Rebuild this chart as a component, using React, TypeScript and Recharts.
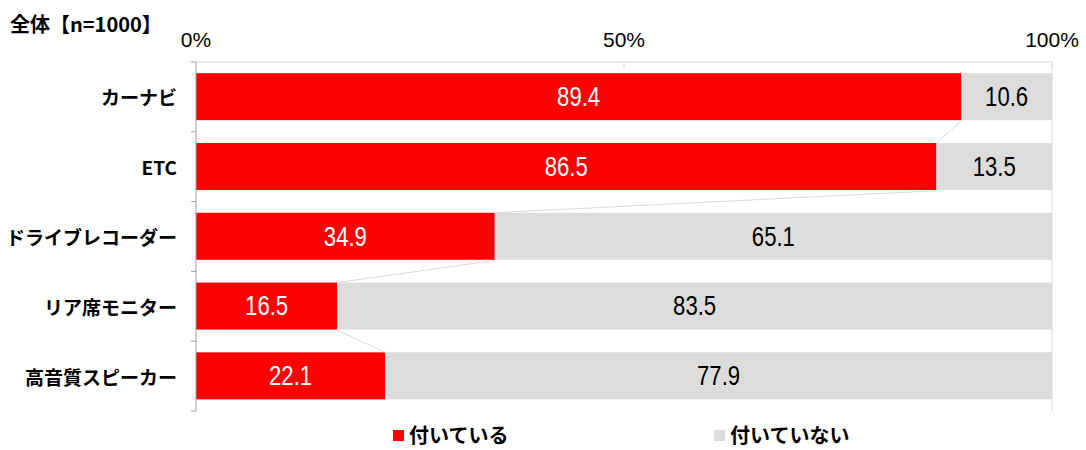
import { BarChart, Bar, XAxis, YAxis, LabelList, ReferenceLine } from "recharts";

const RED = "#ff0000";
const GRAY = "#dcdcdc";
const LINE = "#d9d9d9";
const AXIS = "#a0a0a0";
const JP = '"Noto Sans CJK JP", "Noto Sans", sans-serif';
const NUM = '"Liberation Sans", Arial, sans-serif';

const CATEGORIES = ["カーナビ", "ETC", "ドライブレコーダー", "リア席モニター", "高音質スピーカー"];
const EQUIPPED = [89.4, 86.5, 34.9, 16.5, 22.1];
const NOT_EQUIPPED = [10.6, 13.5, 65.1, 83.5, 77.9];
const X_TICKS = [0, 50, 100];
const SERIES = [
  { key: "on", name: "付いている", color: RED },
  { key: "off", name: "付いていない", color: GRAY },
];
const LEGEND_X = [393, 714];

const CAT_GAP = 0.16;

const rows = CATEGORIES.map((name, i) => ({
  name,
  on: EQUIPPED[i],
  off: NOT_EQUIPPED[i],
  prevOn: i > 0 ? EQUIPPED[i - 1] : null,
}));

// red segment plus the series line back to the previous bar's end
function RedBar(props: any) {
  const { x, y, width, height, payload } = props;
  let connector = null;
  if (payload.prevOn != null && payload.on > 0) {
    const perUnit = width / payload.on;
    const band = height / (1 - 2 * CAT_GAP);
    const prevBottom = y - (band - height);
    connector = (
      <line
        x1={x + payload.prevOn * perUnit}
        y1={prevBottom}
        x2={x + width}
        y2={y}
        stroke={LINE}
        strokeWidth={1}
      />
    );
  }
  return (
    <g>
      <rect x={x} y={y} width={width} height={height} fill={RED} />
      {connector}
    </g>
  );
}

// condensed number in the middle of a segment
function valueLabel(fill: string) {
  return (props: any) => {
    const { x, y, width, height, value } = props;
    const cx = x + width / 2;
    const cy = y + height / 2;
    return (
      <text
        transform={`translate(${cx} ${cy}) scale(0.82 1)`}
        textAnchor="middle"
        dominantBaseline="central"
        fontSize={27}
        fontFamily={NUM}
        fill={fill}
      >
        {value}
      </text>
    );
  };
}

function PercentTick({ x, y, payload }: any) {
  return (
    <g>
      <line x1={x} y1={y} x2={x} y2={y + 6} stroke={LINE} />
      <text x={x} y={y - 15} textAnchor="middle" fontSize={21} fontFamily={NUM} fill="#000">
        {payload.value}%
      </text>
    </g>
  );
}

function CategoryTick({ x, y, payload, index, visibleTicksCount }: any) {
  const half = payload.offset ?? 35;
  return (
    <g>
      <line x1={x - 5} y1={y - half} x2={x} y2={y - half} stroke={AXIS} />
      {index === visibleTicksCount - 1 && (
        <line x1={x - 5} y1={y + half} x2={x} y2={y + half} stroke={AXIS} />
      )}
      <text
        x={x - 19}
        y={y}
        textAnchor="end"
        dominantBaseline="central"
        fontSize={19}
        fontWeight={700}
        fontFamily={JP}
        fill="#000"
      >
        {payload.value}
      </text>
    </g>
  );
}

export default function App() {
  return (
    <div style={{ position: "absolute", left: 0, top: 0, width: 1086, height: 450, background: "#fff" }}>
      <div
        style={{
          position: "absolute",
          left: 10,
          top: 9,
          fontFamily: JP,
          fontWeight: 700,
          fontSize: 20,
          color: "#000",
          whiteSpace: "nowrap",
        }}
      >
        全体【n=1000】
      </div>
      <BarChart
        width={1086}
        height={450}
        data={rows}
        layout="vertical"
        margin={{ top: 32, right: 34, bottom: 39, left: 0 }}
        barCategoryGap={`${CAT_GAP * 100}%`}
      >
        <XAxis
          type="number"
          orientation="top"
          domain={[0, 100]}
          ticks={X_TICKS}
          interval={0}
          height={30}
          axisLine={{ stroke: LINE }}
          tickLine={false}
          tickSize={0}
          tickMargin={0}
          tick={<PercentTick />}
        />
        <YAxis
          type="category"
          dataKey="name"
          width={196}
          interval={0}
          axisLine={{ stroke: AXIS }}
          tickLine={false}
          tickSize={0}
          tickMargin={0}
          tick={<CategoryTick />}
        />
        <ReferenceLine x={100} stroke={LINE} />
        <Bar dataKey="on" name="付いている" stackId="a" fill={RED} shape={<RedBar />} isAnimationActive={false}>
          <LabelList dataKey="on" content={valueLabel("#fff")} />
        </Bar>
        <Bar dataKey="off" name="付いていない" stackId="a" fill={GRAY} isAnimationActive={false}>
          <LabelList dataKey="off" content={valueLabel("#000")} />
        </Bar>
      </BarChart>
      <div style={{ position: "absolute", left: 0, top: 424, width: 1086, height: 22 }}>
        {SERIES.map((s, i) => (
          <div
            key={s.key}
            style={{
              position: "absolute",
              left: LEGEND_X[i],
              top: 0,
              height: 22,
              display: "flex",
              alignItems: "center",
              fontFamily: JP,
              fontWeight: 700,
              fontSize: 20,
              lineHeight: "22px",
              color: "#000",
              whiteSpace: "nowrap",
            }}
          >
            <span style={{ display: "inline-block", width: 11, height: 11, background: s.color, marginRight: 5 }} />
            {s.name}
          </div>
        ))}
      </div>
    </div>
  );
}
